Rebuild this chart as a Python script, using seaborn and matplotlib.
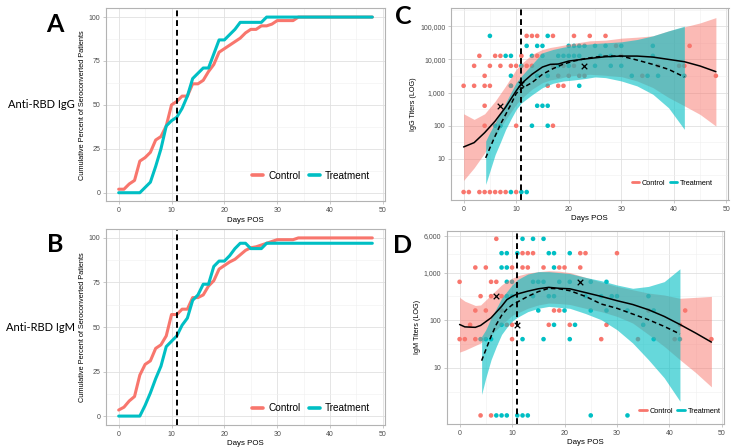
import numpy as np
import pandas as pd
import seaborn as sns
import matplotlib.pyplot as plt
from matplotlib.lines import Line2D
from matplotlib.ticker import FixedLocator, NullFormatter

sns.set_theme(style="white")
plt.rcParams['font.family'] = ['Liberation Sans', 'DejaVu Sans']

RED = "#F8766D"
CYAN = "#00BFC4"
groups = ["Control", "Treatment"]

#######################################
## Data
#######################################

cum_days = list(range(49))
igg_cum_control = [2, 2, 5, 7, 18, 20, 23, 30, 32, 38,
                   50, 52, 55, 55, 62, 62, 64, 69, 73, 80,
                   82, 84, 86, 88, 91, 93, 93, 95, 95, 96,
                   98, 98, 98, 98] + [100] * 15
igg_cum_treatment = [0, 0, 0, 0, 0, 3, 6, 15, 25, 38,
                     41, 43, 48, 55, 65, 68, 71, 71, 79, 87,
                     87, 90, 93, 97, 97, 97, 97, 97] + [100] * 21
igm_cum_control = [3.4, 5, 8.5, 11, 23, 29, 31, 38, 40, 45,
                   57, 57, 60, 60, 66.5, 66.5, 68, 73, 76, 82.5,
                   84.5, 86.5, 88, 90.5, 93, 94.5, 95, 96, 97, 98,
                   99, 99, 99, 99] + [100] * 15
igm_cum_treatment = [0, 0, 0, 0, 0, 6, 13, 21, 28, 39,
                     42, 45, 51, 55, 65, 68, 74, 74, 84, 87,
                     87, 90, 94, 97, 97, 94, 94, 94] + [97] * 21

# titer points (0 = negative, drawn on the bottom row)
igg_ctrl_day = [0, 0, 1, 2, 2, 3, 3, 4, 4, 4, 4, 4, 5, 5, 5, 6, 6, 7, 7, 7, 8, 9, 9, 10, 10, 10,
                11, 12, 12, 13, 13, 14, 14, 16, 17, 17, 17, 18, 18, 19, 19, 20, 21, 21, 22, 23,
                24, 27, 29, 30, 34, 37, 41, 42, 43, 48]
igg_ctrl_titer = [1600, 0, 0, 6400, 1600, 12800, 0, 3200, 1600, 400, 100, 0, 6400, 1600, 0, 12800, 0,
                  12800, 6400, 0, 0, 6400, 1600, 6400, 100, 0, 12800, 51200, 6400, 51200, 6400, 51200,
                  12800, 1600, 51200, 6400, 100, 3200, 1600, 1600, 6400, 3200, 51200, 6400, 3200, 3200,
                  51200, 51200, 25600, 12800, 3200, 6400, 6400, 6400, 25600, 3200]
igg_trt_day = [5, 6, 7, 8, 9, 9, 9, 9, 11, 11, 12, 12, 13, 13, 14, 14, 14, 15, 15, 15, 16, 16, 16, 16,
               18, 18, 19, 20, 20, 20, 21, 21, 22, 22, 22, 23, 25, 25, 26, 27, 28, 28, 30, 30, 32, 35,
               36, 36, 37, 42]
igg_trt_titer = [51200, 100, 100, 12800, 12800, 3200, 1600, 0, 6400, 0, 25600, 0, 12800, 100, 25600,
                 3200, 400, 25600, 12800, 400, 51200, 3200, 400, 100, 12800, 6400, 12800, 25600, 12800,
                 6400, 25600, 12800, 25600, 12800, 1600, 25600, 25600, 6400, 12800, 25600, 12800, 6400,
                 25600, 6400, 3200, 3200, 25600, 12800, 3200, 3200]
igm_ctrl_day = [0, 0, 1, 2, 3, 3, 3, 4, 4, 5, 5, 6, 6, 6, 7, 7, 8, 8, 9, 10, 10, 10, 12, 12, 13, 13,
                14, 16, 17, 18, 19, 19, 20, 21, 23, 23, 24, 27, 28, 30, 34, 36, 41, 42, 43, 48]
igm_ctrl_titer = [640, 40, 40, 80, 1280, 160, 40, 320, 0, 1280, 160, 640, 320, 0, 5120, 640, 320, 160,
                  80, 1280, 80, 40, 2560, 1280, 2560, 1280, 2560, 1280, 80, 160, 1280, 160, 1280, 80,
                  2560, 1280, 2560, 40, 80, 2560, 40, 160, 40, 80, 160, 40]
igm_trt_day = [4, 5, 6, 7, 8, 8, 8, 8, 9, 9, 9, 9, 9, 10, 10, 11, 11, 12, 12, 12, 13, 14, 14, 14, 15, 15,
               16, 16, 16, 17, 17, 18, 18, 18, 18, 19, 20, 21, 21, 21, 22, 24, 25, 25, 25, 27, 28, 28,
               29, 30, 32, 32, 35, 36, 37, 37, 42]
igm_trt_titer = [40, 40, 40, 0, 2560, 1280, 80, 0, 2560, 1280, 640, 320, 0, 640, 320, 2560, 0, 5120, 40,
                 0, 0, 5120, 640, 320, 640, 160, 5120, 640, 40, 2560, 320, 2560, 1280, 320, 80, 640, 160,
                 2560, 640, 40, 80, 320, 640, 160, 0, 320, 640, 160, 320, 320, 160, 0, 80, 320, 160, 40, 40]

# highlighted patients (x marks)
mark_day = [7, 11, 23]
igg_mark_titer = [400, 1800, 6400]
igm_mark_titer = [320, 80, 640]

# smooth fits, log10 units: fit, lower and upper band
igg_ctrl_fd = [0, 2, 4, 6, 8, 10, 11, 13, 15, 16.5, 18, 20, 24, 27, 30, 33, 36, 39, 42, 45, 48]
igg_ctrl_fit = [1.36, 1.49, 1.79, 2.14, 2.56, 3.05, 3.27, 3.55, 3.77, 3.85, 3.86, 3.95, 4.03, 4.08,
                4.1, 4.1, 4.07, 4.0, 3.93, 3.8, 3.63]
igg_ctrl_lo = [0.35, 0.73, 1.18, 1.69, 2.19, 2.64, 2.82, 3.1, 3.3, 3.38, 3.42, 3.5, 3.55, 3.52,
               3.48, 3.35, 3.15, 2.85, 2.6, 2.34, 1.99]
igg_ctrl_hi = [2.36, 2.19, 2.36, 2.74, 3.2, 3.7, 3.87, 4.15, 4.3, 4.36, 4.4, 4.46, 4.56, 4.58, 4.64,
               4.67, 4.71, 4.86, 4.98, 5.1, 5.26]
igg_trt_fd = [4.2, 5, 6, 7, 8, 9, 10, 11, 13, 15, 17, 19, 21, 23, 25, 27, 30, 33, 36, 39, 42]
igg_trt_fit = [1.03, 1.33, 1.69, 2.04, 2.34, 2.64, 2.97, 3.12, 3.3, 3.55, 3.72, 3.86, 3.95, 4.02,
               4.07, 4.1, 4.1, 3.98, 3.85, 3.7, 3.47]
igg_trt_lo = [0.23, 0.63, 1.13, 1.5, 1.89, 2.2, 2.49, 2.69, 2.93, 3.15, 3.28, 3.35, 3.38, 3.42,
              3.47, 3.45, 3.35, 3.2, 2.95, 2.54, 1.89]
igg_trt_hi = [1.54, 1.8, 2.09, 2.4, 2.69, 3.0, 3.3, 3.5, 3.85, 4.2, 4.3, 4.37, 4.42, 4.45, 4.48,
              4.5, 4.53, 4.6, 4.71, 4.86, 5.0]

igm_ctrl_fd = [0, 1, 3, 4, 6, 8, 9, 10, 11, 13, 15, 17, 19, 21, 24, 27, 30, 33, 36, 39, 42, 45, 48]
igm_ctrl_fit = [1.91, 1.86, 1.85, 1.89, 2.05, 2.29, 2.43, 2.5, 2.55, 2.61, 2.66, 2.69, 2.67, 2.66,
                2.58, 2.5, 2.41, 2.33, 2.22, 2.08, 1.91, 1.73, 1.54]
igm_ctrl_lo = [1.33, 1.37, 1.47, 1.52, 1.7, 1.9, 2.0, 2.1, 2.15, 2.25, 2.32, 2.36, 2.35, 2.33, 2.25,
               2.18, 2.08, 1.94, 1.7, 1.45, 1.17, 0.9, 0.6]
igm_ctrl_hi = [2.48, 2.4, 2.31, 2.32, 2.53, 2.74, 2.82, 2.88, 2.93, 2.99, 3.02, 3.04, 3.03, 3.0, 2.9,
               2.8, 2.71, 2.64, 2.57, 2.53, 2.46, 2.48, 2.5]
igm_trt_fd = [4.2, 5, 6, 7, 8, 9, 10, 11, 13, 15, 17, 19, 21, 24, 27, 30, 33, 36, 39, 42]
igm_trt_fit = [1.15, 1.38, 1.66, 1.91, 2.1, 2.23, 2.32, 2.38, 2.5, 2.6, 2.67, 2.66, 2.62, 2.5, 2.34,
               2.25, 2.13, 2.01, 1.87, 1.71]
igm_trt_lo = [0.44, 0.79, 1.17, 1.45, 1.7, 1.85, 1.98, 2.06, 2.18, 2.25, 2.29, 2.27, 2.25, 2.14, 2.01,
              1.8, 1.52, 1.17, 0.79, 0.3]
igm_trt_hi = [1.66, 1.8, 2.05, 2.25, 2.46, 2.6, 2.74, 2.85, 2.97, 3.02, 3.02, 3.0, 2.98, 2.9, 2.83,
              2.74, 2.67, 2.71, 2.81, 3.08]

#######################################
## Helpers
#######################################

W, H = 732, 448


def add_ax(fig, left, top, right, bottom):
    return fig.add_axes([left / W, 1 - bottom / H, (right - left) / W, (bottom - top) / H])


def style_ax(ax, ylabel, ylabel_size):
    ax.set_xlim(-2.4, 50.4)
    ax.set_xticks([0, 10, 20, 30, 40, 50])
    ax.xaxis.set_minor_locator(FixedLocator([5, 15, 25, 35, 45]))
    ax.grid(which='major', color='#e0e0e0', lw=0.6)
    ax.grid(which='minor', color='#f0f0f0', lw=0.4)
    ax.set_axisbelow(True)
    for s in ax.spines.values():
        s.set_color('#b3b3b3')
        s.set_linewidth(0.8)
    ax.tick_params(which='major', bottom=True, left=True, length=2.5, width=0.5, color='#b3b3b3',
                   labelsize=5, labelcolor='#4d4d4d', pad=1.5)
    ax.tick_params(which='minor', length=0)
    ax.set_xlabel('Days POS', fontsize=5.7, labelpad=2, color='black')
    ax.set_ylabel(ylabel, fontsize=ylabel_size, labelpad=2, color='black')


def cum_panel(ax, ctrl, trt, leg_xy):
    df = pd.DataFrame({'Day': cum_days * 2, 'Percent': ctrl + trt,
                       'Group': ['Control'] * len(ctrl) + ['Treatment'] * len(trt)})
    sns.lineplot(data=df, x='Day', y='Percent', hue='Group', hue_order=groups,
                 palette=[RED, CYAN], lw=2.2, ax=ax, legend=False)
    ax.axvline(11, color='black', lw=1.4, ls=(0, (3, 2)))
    ax.set_ylim(-5, 105)
    ax.set_yticks([0, 25, 50, 75, 100])
    ax.yaxis.set_minor_locator(FixedLocator([12.5, 37.5, 62.5, 87.5]))
    style_ax(ax, 'Cumulative Percent of Seroconverted Patients', 5.3)
    handles = [Line2D([0], [0], color=RED, lw=2.6), Line2D([0], [0], color=CYAN, lw=2.6)]
    ax.legend(handles, groups, loc='center', bbox_to_anchor=leg_xy, ncol=2, frameon=False,
              fontsize=7.2, handlelength=1.1, handletextpad=0.5, columnspacing=0.8,
              labelcolor='black')


def titer_panel(ax, pts, fits, marks, ylim, yticks, ylabels, minor, ylabel, leg_xy):
    cd, ct, td, tt = pts
    df = pd.DataFrame({'Day': cd + td, 'Titer': ct + tt,
                       'Group': ['Control'] * len(cd) + ['Treatment'] * len(td)})
    df['Plot'] = df['Titer'].where(df['Titer'] > 0, 1)
    sns.scatterplot(data=df, x='Day', y='Plot', hue='Group', hue_order=groups,
                    palette=[RED, CYAN], s=11, linewidth=0, ax=ax, legend=False)
    for (fd, fit, lo, hi), col, alpha in zip(fits, [RED, CYAN], [0.5, 0.6]):
        ax.fill_between(fd, np.power(10.0, lo), np.power(10.0, hi), color=col, alpha=alpha, lw=0)
    for (fd, fit, lo, hi), ls in zip(fits, ['-', (0, (3, 2))]):
        sns.lineplot(x=fd, y=np.power(10.0, fit), color='black', lw=1.1, linestyle=ls, ax=ax)
    sns.scatterplot(x=mark_day, y=marks, marker='x', color='black', s=16, linewidth=0.9, ax=ax)
    ax.axvline(11, color='black', lw=1.4, ls=(0, (3, 2)))
    ax.set_yscale('log')
    ax.set_ylim(10 ** ylim[0], 10 ** ylim[1])
    ax.yaxis.set_major_locator(FixedLocator(yticks))
    ax.set_yticklabels(ylabels)
    ax.yaxis.set_minor_locator(FixedLocator(minor))
    ax.yaxis.set_minor_formatter(NullFormatter())
    style_ax(ax, ylabel, 5.2)
    handles = [Line2D([0], [0], color=RED, lw=2), Line2D([0], [0], color=CYAN, lw=2)]
    ax.legend(handles, groups, loc='center', bbox_to_anchor=leg_xy, ncol=2, frameon=False,
              fontsize=5.3, handlelength=1.0, handletextpad=0.4, columnspacing=0.6,
              labelcolor='black')


#######################################
## Figure
#######################################

fig = plt.figure(figsize=(W / 100, H / 100), dpi=100)

axA = add_ax(fig, 106, 8.3, 385, 201.5)
cum_panel(axA, igg_cum_control, igg_cum_treatment, (0.735, 0.132))

axB = add_ax(fig, 106, 229, 385, 425)
cum_panel(axB, igm_cum_control, igm_cum_treatment, (0.735, 0.085))

axC = add_ax(fig, 451, 8, 728.5, 200)
titer_panel(axC, (igg_ctrl_day, igg_ctrl_titer, igg_trt_day, igg_trt_titer),
            [(igg_ctrl_fd, igg_ctrl_fit, igg_ctrl_lo, igg_ctrl_hi),
             (igg_trt_fd, igg_trt_fit, igg_trt_lo, igg_trt_hi)],
            igg_mark_titer, (-0.24, 5.55), [10, 100, 1000, 10000, 100000],
            ['10', '100', '1,000', '10,000', '100,000'],
            np.power(10.0, [0.5, 1.5, 2.5, 3.5, 4.5, 5.5]), 'IgG Titers (LOG)', (0.798, 0.088))

axD = add_ax(fig, 447, 230.7, 724, 424)
titer_panel(axD, (igm_ctrl_day, igm_ctrl_titer, igm_trt_day, igm_trt_titer),
            [(igm_ctrl_fd, igm_ctrl_fit, igm_ctrl_lo, igm_ctrl_hi),
             (igm_trt_fd, igm_trt_fit, igm_trt_lo, igm_trt_hi)],
            igm_mark_titer, (-0.18, 3.88), [10, 100, 1000, 6000],
            ['10', '100', '1,000', '6,000'],
            np.power(10.0, [0.5, 1.5, 2.5, 3.39]), 'IgM Titers (LOG)', (0.841, 0.067))

# panel letters and row labels
for txt, x, y in [('A', 55, 24), ('B', 55, 244), ('C', 403, 17), ('D', 403, 245)]:
    fig.text(x / W, 1 - y / H, txt, ha='center', va='center', fontsize=18, color='black',
             fontweight='bold', family=['Lato', 'DejaVu Sans'])
fig.text(41 / W, 1 - 105 / H, 'Anti-RBD IgG', ha='center', va='center', fontsize=8,
         color='black', family=['Lato', 'DejaVu Sans'])
fig.text(41 / W, 1 - 327 / H, 'Anti-RBD IgM', ha='center', va='center', fontsize=8,
         color='black', family=['Lato', 'DejaVu Sans'])

fig.savefig('out.png', dpi=100)
